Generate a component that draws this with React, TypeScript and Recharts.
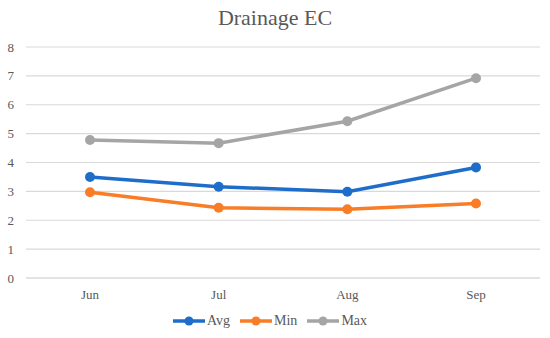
import React from 'react';
import { LineChart, Line, XAxis, YAxis, CartesianGrid, Legend } from 'recharts';

const months = ['Jun', 'Jul', 'Aug', 'Sep'];
const avgValues = [3.5, 3.16, 2.99, 3.83];
const minValues = [2.97, 2.43, 2.38, 2.58];
const maxValues = [4.78, 4.67, 5.43, 6.92];
const yTicks = [0, 1, 2, 3, 4, 5, 6, 7, 8];

const series = [
  { key: 'Avg', color: '#1f6dcb' },
  { key: 'Min', color: '#f97d26' },
  { key: 'Max', color: '#a5a5a5' },
];

const data = months.map((m, i) => ({ month: m, Avg: avgValues[i], Min: minValues[i], Max: maxValues[i] }));

const FONT = "'Liberation Serif', 'Times New Roman', Times, serif";

const LegendContent = () => (
  <div style={{ display: 'flex', justifyContent: 'center', alignItems: 'center', height: 26, fontFamily: FONT, fontSize: 14, color: '#595959' }}>
    {series.map((s) => (
      <div key={s.key} style={{ display: 'flex', alignItems: 'center', margin: '0 5px' }}>
        <svg width={32} height={12} style={{ marginRight: 2 }}>
          <line x1={0} y1={6} x2={32} y2={6} stroke={s.color} strokeWidth={3.5} />
          <circle cx={16} cy={6} r={4.5} fill={s.color} />
        </svg>
        <span>{s.key}</span>
      </div>
    ))}
  </div>
);

export default function App() {
  return (
    <div style={{ position: 'absolute', left: 0, top: 0, width: 550, height: 338, background: '#fff', fontFamily: FONT }}>
      <div style={{ position: 'absolute', top: 5, left: 0, width: 550, textAlign: 'center', fontFamily: FONT, fontSize: 22, color: '#595959' }}>
        Drainage EC
      </div>
      <LineChart width={550} height={338} data={data} margin={{ top: 47, right: 10, left: 0, bottom: 4 }} style={{ fontFamily: FONT }}>
        <CartesianGrid vertical={false} stroke="#d9d9d9" strokeWidth={1.2} />
        <XAxis
          dataKey="month"
          axisLine={{ stroke: '#d9d9d9', strokeWidth: 1.2 }}
          tickLine={false}
          tickMargin={6}
          height={30}
          padding={{ left: 64, right: 64 }}
          tick={{ fill: '#595959', fontSize: 13, fontFamily: FONT }}
        />
        <YAxis
          domain={[0, 8]}
          ticks={yTicks}
          width={26}
          axisLine={false}
          tickLine={false}
          tickMargin={6}
          tick={{ fill: '#595959', fontSize: 13, fontFamily: FONT }}
        />
        <Legend verticalAlign="bottom" content={<LegendContent />} />
        {series.map((s) => (
          <Line
            key={s.key}
            dataKey={s.key}
            stroke={s.color}
            strokeWidth={3.5}
            dot={{ r: 5, fill: s.color, stroke: s.color, strokeWidth: 0 }}
            activeDot={false}
            isAnimationActive={false}
          />
        ))}
      </LineChart>
    </div>
  );
}
